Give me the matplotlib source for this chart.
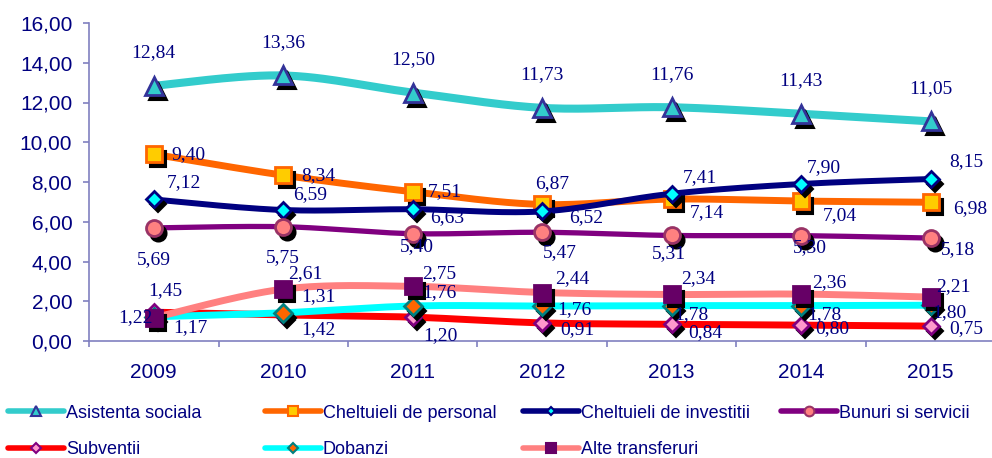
import numpy as np
import matplotlib
matplotlib.use("Agg")
import matplotlib.pyplot as plt
from matplotlib.lines import Line2D
from matplotlib.transforms import offset_copy

years = ["2009", "2010", "2011", "2012", "2013", "2014", "2015"]

asistenta_sociala = [12.84, 13.36, 12.50, 11.73, 11.76, 11.43, 11.05]
cheltuieli_personal = [9.40, 8.34, 7.51, 6.87, 7.14, 7.04, 6.98]
cheltuieli_investitii = [7.12, 6.59, 6.63, 6.52, 7.41, 7.90, 8.15]
bunuri_servicii = [5.69, 5.75, 5.40, 5.47, 5.31, 5.30, 5.18]
subventii = [1.45, 1.31, 1.20, 0.91, 0.84, 0.80, 0.75]
dobanzi = [1.22, 1.42, 1.76, 1.76, 1.78, 1.78, 1.80]
alte_transferuri = [1.17, 2.61, 2.75, 2.44, 2.34, 2.36, 2.21]

names = ["Asistenta sociala", "Cheltuieli de personal", "Cheltuieli de investitii",
         "Bunuri si servicii", "Subventii", "Dobanzi", "Alte transferuri"]
series = [asistenta_sociala, cheltuieli_personal, cheltuieli_investitii,
          bunuri_servicii, subventii, dobanzi, alte_transferuri]

# style: line color, line width, marker, marker size, face, edge, legend marker size
styles = [
    ("#33CCCC", 5.8, "^", 13, "#33CCCC", "#333399", 7),
    ("#FF6600", 5.0, "s", 11, "#FFCC00", "#FF6600", 7),
    ("#000080", 4.3, "D", 8, "#00FFFF", "#000080", 4.5),
    ("#800080", 3.8, "o", 11.5, "#FF8080", "#993366", 7),
    ("#FF0000", 5.0, "D", 8.5, "#FF99CC", "#800080", 5),
    ("#00FFFF", 5.0, "D", 9, "#FF6600", "#008080", 5),
    ("#FF8080", 5.0, "s", 11, "#660066", "#660066", 7),
]

# label offsets in pixels (dx, dy downward positive, ha)
label_offsets = [
    [(0, -33, "center")] * 7,
    [(18, 0, "left"), (18, 0, "left"), (15, 0, "left"), (10, -21, "center"),
     (18, 14, "left"), (22, 15, "left"), (22, 6, "left")],
    [(13, -17, "left"), (10, -15, "left"), (17, 8, "left"), (27, 6, "left"),
     (11, -16, "left"), (6, -16, "left"), (19, -17, "left")],
    [(0, 32, "center"), (0, 31, "center"), (4, 13, "center"), (18, 20, "center"),
     (-3, 18, "center"), (9, 12, "center"), (27, 12, "center")],
    [(-6, -22, "left"), (18, -18, "left"), (10, 18, "left"), (18, 7, "left"),
     (17, 8, "left"), (14, 3, "left"), (19, 2, "left")],
    [(-36, 1, "left"), (18, 17, "left"), (9, -13, "left"), (15, 4, "left"),
     (2, 9, "left"), (6, 9, "left"), (1, 7, "left")],
    [(19, 10, "left"), (5, -16, "left"), (9, -13, "left"), (13, -14, "left"),
     (9, -16, "left"), (11, -12, "left"), (5, -10, "left")],
]


def smooth(xs, ys, n=30):
    P = np.column_stack([xs, ys]).astype(float)
    out = []
    m = len(P)
    for i in range(m - 1):
        p0 = P[i - 1] if i > 0 else P[i]
        p1 = P[i]
        p2 = P[i + 1]
        p3 = P[i + 2] if i + 2 < m else P[i + 1]
        c1 = p1 + (p2 - p0) / 6.0
        c2 = p2 - (p3 - p1) / 6.0
        t = np.linspace(0, 1, n)[:, None]
        seg = ((1 - t) ** 3) * p1 + 3 * ((1 - t) ** 2) * t * c1 + 3 * (1 - t) * t ** 2 * c2 + t ** 3 * p2
        out.append(seg if i == 0 else seg[1:])
    S = np.vstack(out)
    return S[:, 0], S[:, 1]


W, H = 992, 458
fig = plt.figure(figsize=(W / 100, H / 100), dpi=100)
ax = fig.add_axes([89 / W, (H - 341) / H, 906.5 / W, 318 / H])
x = np.arange(len(years))

navy = "#000080"
spine_c = "#8080C0"
shadow_tr = offset_copy(ax.transData, fig=fig, x=4, y=-5, units="dots")

legend_handles = []
for k, (vals, st) in enumerate(zip(series, styles)):
    lc, lw, mk, ms, fc, ec, lms = st
    z = 3 + k * 3
    sx, sy = smooth(x, vals)
    ax.plot(sx, sy, color=lc, lw=lw, solid_capstyle="round", zorder=z)
    ax.plot(x, vals, ls="none", marker=mk, ms=ms, mfc="black", mec="black",
            mew=1.5, transform=shadow_tr, zorder=z + 1)
    ax.plot(x, vals, ls="none", marker=mk, ms=ms, mfc=fc, mec=ec,
            mew=2, zorder=z + 2)
    legend_handles.append(Line2D([0], [0], color=lc, lw=4, marker=mk, ms=lms,
                                 mfc=fc, mec=ec, mew=1.5, solid_capstyle="round"))

for k, vals in enumerate(series):
    for i, v in enumerate(vals):
        dx, dy, ha = label_offsets[k][i]
        ax.annotate(f"{v:.2f}".replace(".", ","), (x[i], v), xytext=(dx * 0.72, -dy * 0.72),
                    textcoords="offset points", ha=ha, va="center",
                    fontsize=14, family=["Liberation Serif", "DejaVu Serif"], color=navy,
                    zorder=40)

ax.set_xlim(-0.5, 6.5)
ax.set_ylim(0, 16)
ax.set_yticks(np.arange(0, 17, 2))
ax.set_yticklabels([f"{t:.2f}".replace(".", ",") for t in np.arange(0, 17, 2)])
ax.set_xticks(x)
ax.set_xticklabels(years)
ax.set_xticks(np.arange(-0.5, 6.6, 1), minor=True)
ax.tick_params(axis="x", which="major", length=0, pad=16, labelsize=15, labelcolor=navy)
ax.tick_params(axis="x", which="minor", length=4, width=1.2, color=spine_c)
ax.tick_params(axis="y", length=4, width=1.2, color=spine_c, pad=8, labelsize=15, labelcolor=navy)
for lab in ax.get_xticklabels() + ax.get_yticklabels():
    lab.set_family(["Liberation Sans", "DejaVu Sans"])
for s in ["top", "right"]:
    ax.spines[s].set_visible(False)
for s in ["left", "bottom"]:
    ax.spines[s].set_color(spine_c)
    ax.spines[s].set_linewidth(1.2)

leg_pos = [(8, 413), (265, 413), (523, 413), (781, 413),
           (8, 450), (265, 450), (523, 450)]
for h, name, (lx, ly) in zip(legend_handles, names, leg_pos):
    fig.legend([h], [name], loc="center left", bbox_to_anchor=(lx / W, 1 - ly / H),
               frameon=False, borderpad=0, borderaxespad=0, handlelength=3.1,
               handletextpad=0.1, numpoints=1,
               prop={"family": ["Liberation Sans", "DejaVu Sans"], "size": 13},
               labelcolor=navy)

fig.savefig("out.png", dpi=100)
